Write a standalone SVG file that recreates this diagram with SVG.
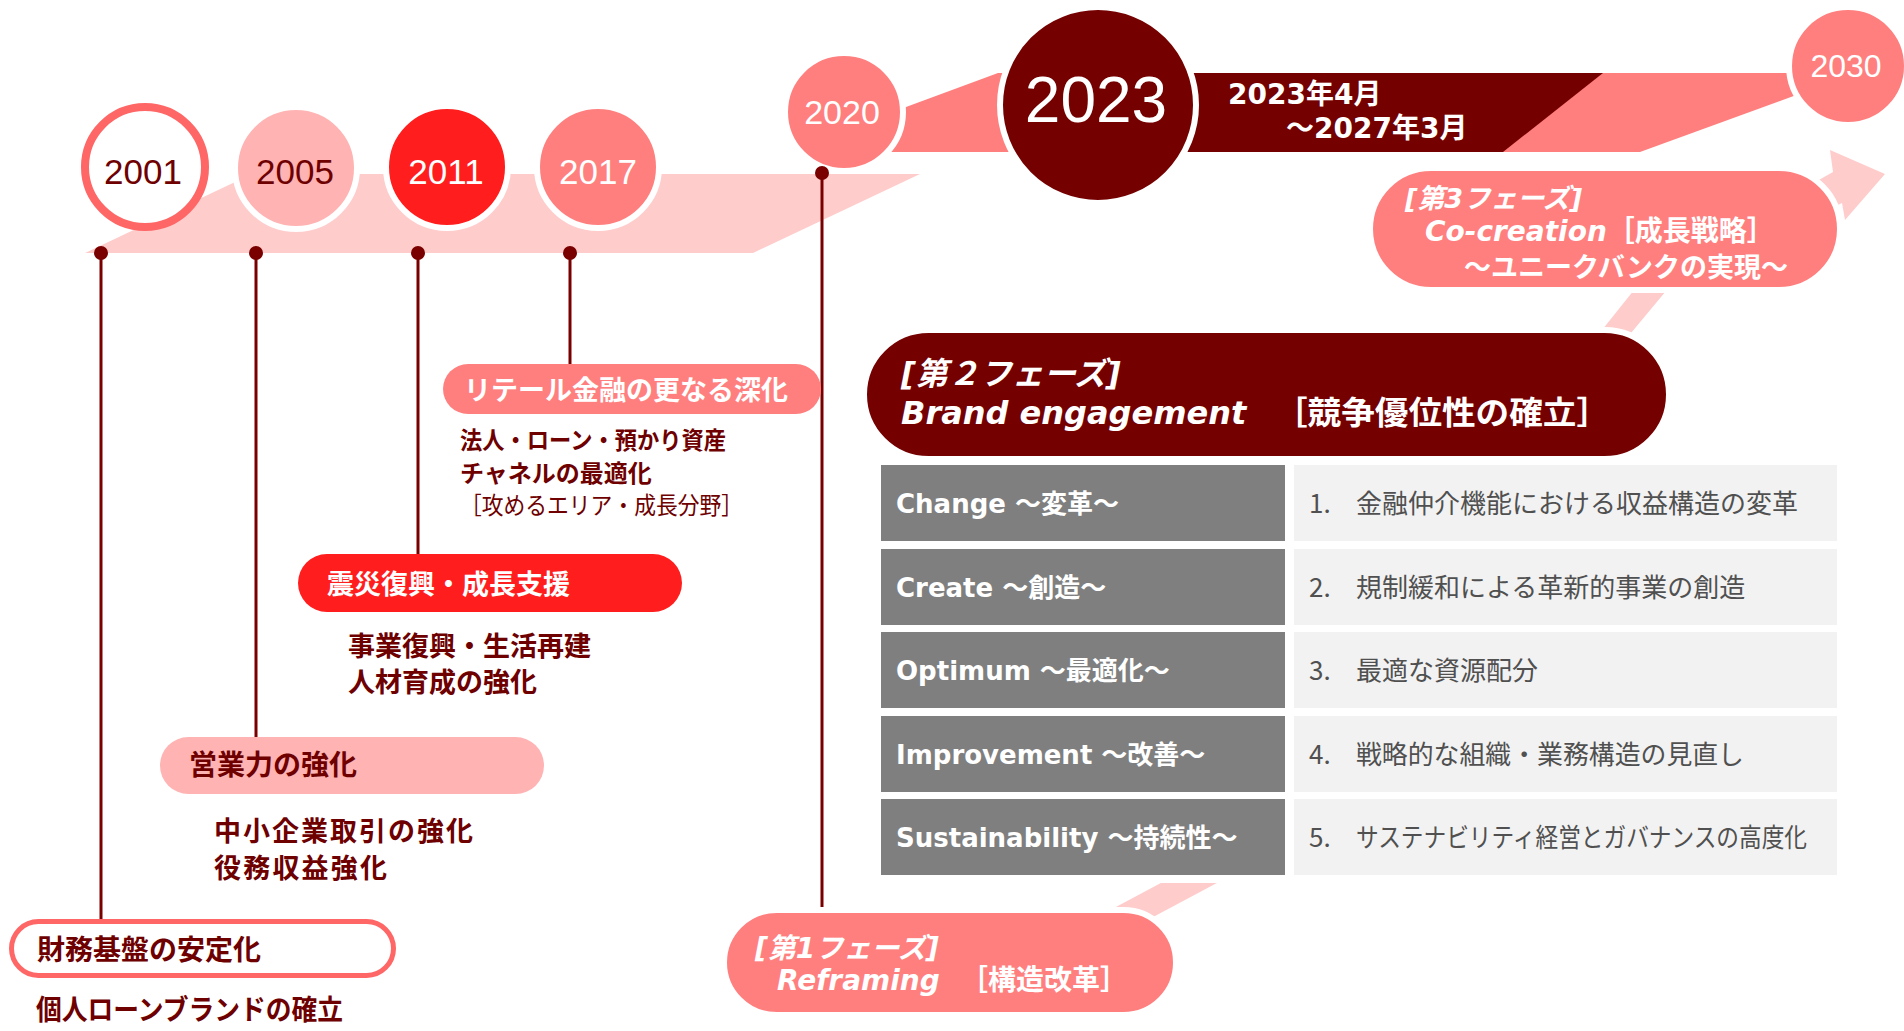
<svg xmlns="http://www.w3.org/2000/svg" width="1904" height="1031" viewBox="0 0 1904 1031">
<style>
.jp{font-family:"Noto Sans CJK JP","Noto Sans CJK SC",sans-serif;font-weight:700}
.reg{font-weight:400}
.mix{font-family:"DejaVu Sans","Noto Sans CJK JP",sans-serif;font-weight:700}
.yr{font-family:"Liberation Sans",Arial,sans-serif;text-anchor:middle}
.dr{fill:#6E0000}
.wt{fill:#FFFFFF}
.halo{stroke:#FFFFFF;stroke-width:6}
.cellL{fill:#7F7F7F}
.cellR{fill:#F2F2F2}
.tl{font-family:"DejaVu Sans","Noto Sans CJK JP",sans-serif;font-weight:700;font-size:26px;fill:#FFFFFF}
.tr{font-family:"Noto Sans CJK JP",sans-serif;font-weight:400;font-size:26px;fill:#505050}
.conn line{stroke:#7A0000;stroke-width:3}
.conn circle{fill:#7A0000}
</style>

<g id="timeline-bands">
  <polygon points="85,253 252,174 920,174 753,253" fill="#FFCCCC"/>
  <polygon points="860,152 860,124 998,73 1810,73 1810,90 1640,152" fill="#FF7F7F"/>
  <polygon points="1090,73 1603,73 1503,152 1090,152" fill="#750000"/>
  <polygon points="1054,940 1110,940 1260,860 1204,860" fill="#FFCCCC"/>
  <polygon points="1590,345 1621,345 1671,285 1842,203 1845,220 1885,174 1830,150 1833,172 1642,280" fill="#FFCCCC"/>
</g>

<g id="y2001">
  <circle cx="145" cy="167" r="60" fill="#FFFFFF" stroke="#FF6666" stroke-width="8"/>
  <text class="yr dr" x="143" y="184" font-size="35">2001</text>
</g>
<g id="y2005">
  <circle cx="296" cy="168" r="61" fill="#FFB3B3" class="halo"/>
  <text class="yr dr" x="295" y="184" font-size="35">2005</text>
</g>
<g id="y2011">
  <circle cx="447" cy="167" r="61" fill="#FF1D1D" class="halo"/>
  <text class="yr wt" x="446" y="184" font-size="35">2011</text>
</g>
<g id="y2017">
  <circle cx="598" cy="167" r="61" fill="#FF7F7F" class="halo"/>
  <text class="yr wt" x="598" y="184" font-size="35">2017</text>
</g>
<g id="y2020">
  <circle cx="844" cy="112" r="59" fill="#FF7F7F" class="halo"/>
  <text class="yr wt" x="842" y="124" font-size="34">2020</text>
</g>
<g id="y2023">
  <circle cx="1098" cy="105" r="98" fill="#750000" class="halo"/>
  <text class="yr wt" x="1096" y="122" font-size="64">2023</text>
</g>
<g id="y2030">
  <circle cx="1848" cy="66" r="59" fill="#FF7F7F" class="halo"/>
  <text class="yr wt" x="1846" y="77" font-size="32">2030</text>
</g>
<g id="period">
  <text class="mix wt" x="1228" y="104" font-size="28">2023年4月</text>
  <text class="mix wt" x="1286" y="138" font-size="28">～2027年3月</text>
</g>

<g id="connectors" class="conn">
  <line x1="101" y1="253" x2="101" y2="921"/>
  <circle cx="101" cy="253" r="7"/>
  <line x1="256" y1="253" x2="256" y2="737"/>
  <circle cx="256" cy="253" r="7"/>
  <line x1="418" y1="253" x2="418" y2="554"/>
  <circle cx="418" cy="253" r="7"/>
  <line x1="570" y1="253" x2="570" y2="364"/>
  <circle cx="570" cy="253" r="7"/>
  <line x1="822" y1="173" x2="822" y2="913"/>
  <circle cx="822" cy="173" r="7"/>
</g>

<g id="retail">
  <rect x="443" y="364" width="378" height="50" rx="25" fill="#FF7F7F"/>
  <text class="jp wt" x="464" y="400" font-size="27">リテール金融の更なる深化</text>
  <text class="jp dr" x="460" y="449" font-size="24" textLength="266" lengthAdjust="spacingAndGlyphs">法人・ローン・預かり資産</text>
  <text class="jp dr" x="460" y="482" font-size="24">チャネルの最適化</text>
  <text class="jp reg dr" x="460" y="514" font-size="24" textLength="283" lengthAdjust="spacingAndGlyphs">［攻めるエリア・成長分野］</text>
</g>

<g id="shinsai">
  <rect x="298" y="554" width="384" height="58" rx="29" fill="#FF1D1D"/>
  <text class="jp wt" x="327" y="594" font-size="27">震災復興・成長支援</text>
  <text class="jp dr" x="348" y="656" font-size="27">事業復興・生活再建</text>
  <text class="jp dr" x="348" y="692" font-size="27">人材育成の強化</text>
</g>

<g id="eigyo">
  <rect x="160" y="737" width="384" height="57" rx="28.5" fill="#FFB3B3"/>
  <text class="jp dr" x="189" y="775" font-size="28">営業力の強化</text>
  <text class="jp dr" x="214" y="841" font-size="27" textLength="259">中小企業取引の強化</text>
  <text class="jp dr" x="214" y="878" font-size="27" textLength="173">役務収益強化</text>
</g>

<g id="zaimu">
  <rect x="11.5" y="921.5" width="382" height="54" rx="27" fill="#FFFFFF" stroke="#FF6666" stroke-width="5"/>
  <text class="jp dr" x="37" y="960" font-size="28">財務基盤の安定化</text>
  <text class="jp dr" x="36" y="1020" font-size="28" textLength="307" lengthAdjust="spacingAndGlyphs">個人ローンブランドの確立</text>
</g>

<g id="phase1">
  <rect x="724" y="910" width="452" height="105" rx="52.5" fill="#FF7F7F" class="halo"/>
  <text class="mix wt" x="755" y="958" font-size="28" font-style="italic">[第1フェーズ]</text>
  <text class="mix wt" x="777" y="990" font-size="28"><tspan font-style="italic">Reframing</tspan><tspan x="960">［構造改革］</tspan></text>
</g>

<g id="phase3">
  <rect x="1370" y="168" width="470" height="122" rx="61" fill="#FF7F7F" class="halo"/>
  <text class="mix wt" x="1405" y="208" font-size="27" font-style="italic">[第3フェーズ]</text>
  <text class="mix wt" x="1425" y="241" font-size="28"><tspan font-style="italic">Co-creation</tspan>［成長戦略］</text>
  <text class="mix wt" x="1464" y="277" font-size="27">～ユニークバンクの実現～</text>
</g>

<g id="phase2">
  <rect x="864" y="330" width="805" height="129" rx="64.5" fill="#750000" class="halo"/>
  <text class="mix wt" x="901" y="385" font-size="32" font-style="italic">[第２フェーズ]</text>
  <text class="mix wt" x="901" y="424" font-size="32"><tspan font-style="italic">Brand engagement</tspan></text>
  <text class="mix wt" x="1274" y="424" font-size="32" textLength="336" lengthAdjust="spacingAndGlyphs">［競争優位性の確立］</text>
</g>

<g id="table">
  <rect x="873" y="457" width="972" height="426" fill="#FFFFFF"/>
  <g id="row1">
    <rect class="cellL" x="881" y="465" width="404" height="76"/>
    <rect class="cellR" x="1294" y="465" width="543" height="76"/>
    <text class="tl" x="896" y="513">Change ～変革～</text>
    <text class="tr" x="1309" y="513">1.</text>
    <text class="tr" x="1356" y="513">金融仲介機能における収益構造の変革</text>
  </g>
  <g id="row2">
    <rect class="cellL" x="881" y="549" width="404" height="76"/>
    <rect class="cellR" x="1294" y="549" width="543" height="76"/>
    <text class="tl" x="896" y="597">Create ～創造～</text>
    <text class="tr" x="1309" y="597">2.</text>
    <text class="tr" x="1356" y="597">規制緩和による革新的事業の創造</text>
  </g>
  <g id="row3">
    <rect class="cellL" x="881" y="632" width="404" height="76"/>
    <rect class="cellR" x="1294" y="632" width="543" height="76"/>
    <text class="tl" x="896" y="680">Optimum ～最適化～</text>
    <text class="tr" x="1309" y="680">3.</text>
    <text class="tr" x="1356" y="680">最適な資源配分</text>
  </g>
  <g id="row4">
    <rect class="cellL" x="881" y="716" width="404" height="76"/>
    <rect class="cellR" x="1294" y="716" width="543" height="76"/>
    <text class="tl" x="896" y="764">Improvement ～改善～</text>
    <text class="tr" x="1309" y="764">4.</text>
    <text class="tr" x="1356" y="764" textLength="388" lengthAdjust="spacingAndGlyphs">戦略的な組織・業務構造の見直し</text>
  </g>
  <g id="row5">
    <rect class="cellL" x="881" y="799" width="404" height="76"/>
    <rect class="cellR" x="1294" y="799" width="543" height="76"/>
    <text class="tl" x="896" y="847">Sustainability ～持続性～</text>
    <text class="tr" x="1309" y="847">5.</text>
    <text class="tr" x="1356" y="847" textLength="451" lengthAdjust="spacingAndGlyphs">サステナビリティ経営とガバナンスの高度化</text>
  </g>
</g>
</svg>
